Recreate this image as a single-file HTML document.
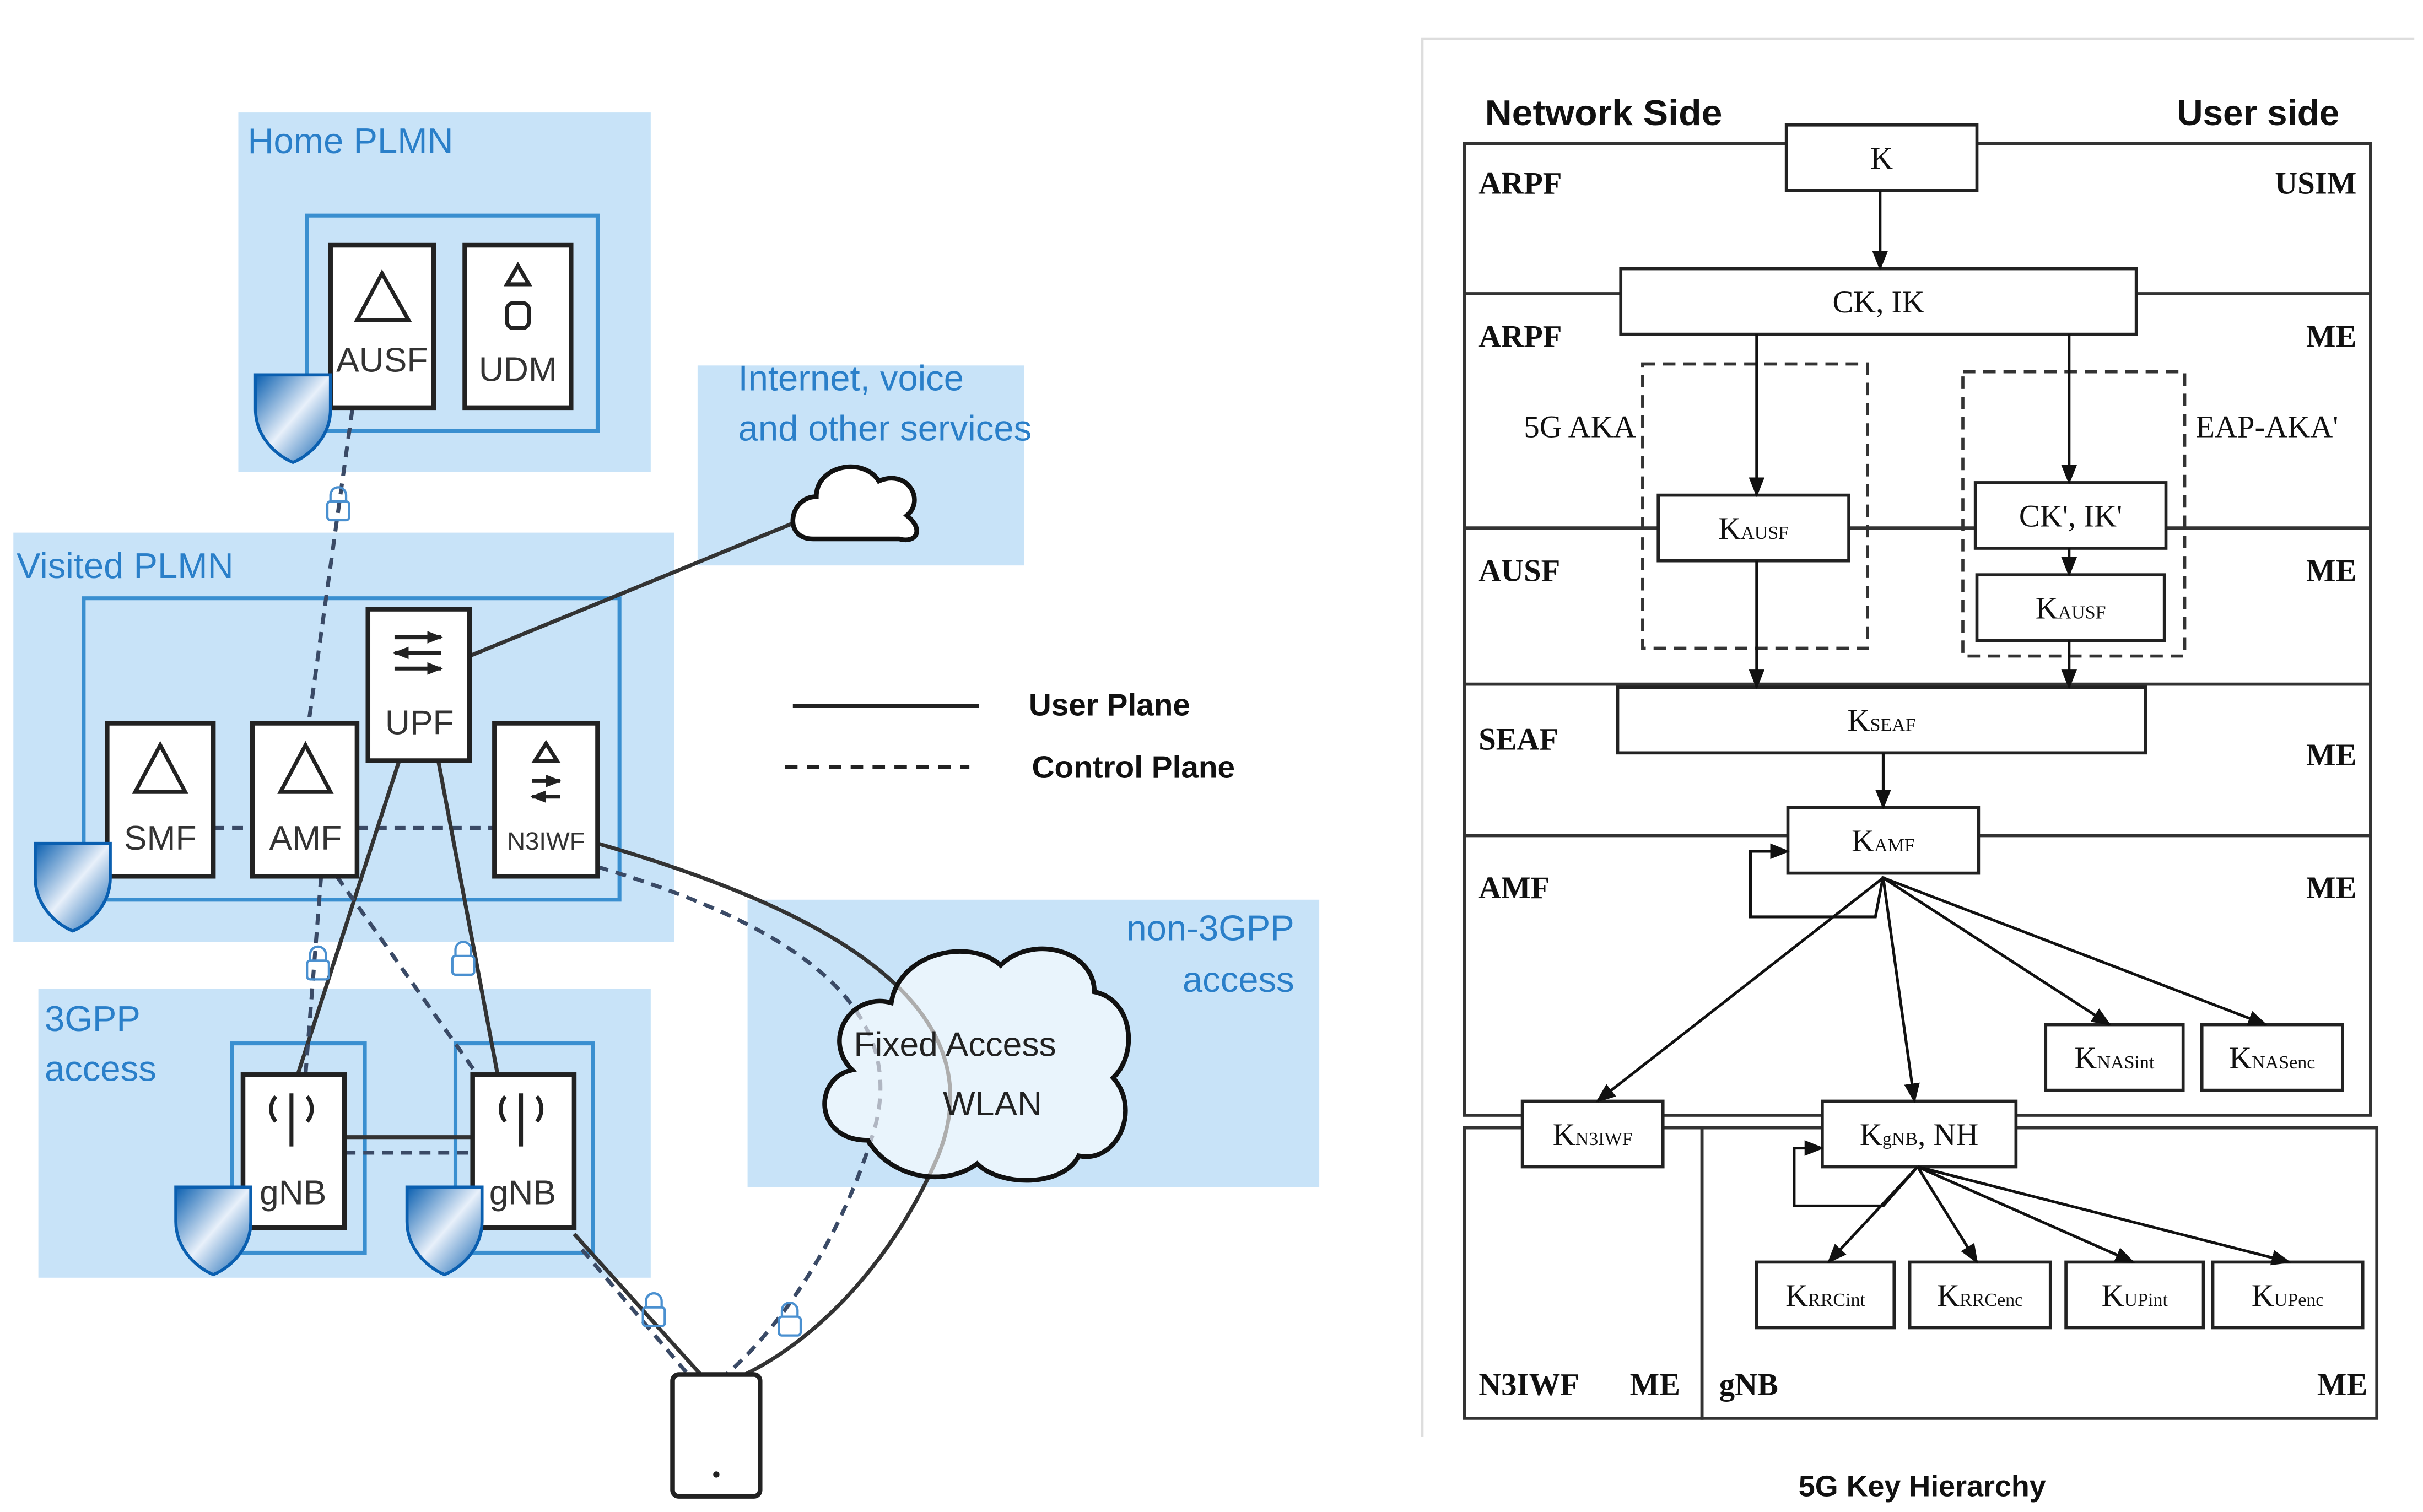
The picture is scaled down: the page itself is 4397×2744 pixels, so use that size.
<!DOCTYPE html>
<html><head><meta charset="utf-8"><style>html,body{margin:0;padding:0;background:#fff}svg{display:block}</style></head>
<body>
<svg width="4397" height="2744" viewBox="0 0 1550 968" xmlns="http://www.w3.org/2000/svg" font-family="Liberation Sans, sans-serif">
<defs>
<marker id="ar" viewBox="0 0 10 10" refX="9" refY="5" markerWidth="7" markerHeight="7" orient="auto"><path d="M0,1 L10,5 L0,9 z" fill="#111"/></marker>
<marker id="sa" viewBox="0 0 10 10" refX="9" refY="5" markerWidth="4" markerHeight="4" orient="auto"><path d="M0,1 L10,5 L0,9 z" fill="#222"/></marker>
<linearGradient id="sh" x1="0" y1="0" x2="1" y2="1"><stop offset="0" stop-color="#0a5fb0"/><stop offset="0.5" stop-color="#e8f0fa"/><stop offset="1" stop-color="#0a5fb0"/></linearGradient>
<g id="shield"><path d="M0,0 L48,0 L48,22 C48,40 34,52 24,56 C14,52 0,40 0,22 Z" fill="url(#sh)" stroke="#0a5fb0" stroke-width="2"/></g>
<g id="lock" fill="none" stroke="#4a90d0" stroke-width="1.5"><path d="M2,9 v-4 a5,5 0 0 1 10,0 v4"/><rect x="0" y="9" width="14" height="12" rx="2"/></g>
</defs>
<rect width="1550" height="968" fill="#fff"/>
<g fill="#c8e3f8">
<rect x="152" y="72" width="264" height="230"/>
<rect x="446" y="234" width="209" height="128"/>
<rect x="8" y="341" width="423" height="262"/>
<rect x="24" y="633" width="392" height="185"/>
<rect x="478" y="576" width="366" height="184"/>
</g>
<g fill="#2a7fc9" font-size="23">
<text x="158" y="98">Home PLMN</text>
<text x="472" y="250">Internet, voice</text>
<text x="472" y="282">and other services</text>
<text x="10" y="370">Visited PLMN</text>
<text x="28" y="660">3GPP</text>
<text x="28" y="692">access</text>
<text x="828" y="602" text-anchor="end">non-3GPP</text>
<text x="828" y="635" text-anchor="end">access</text>
</g>
<g fill="none" stroke="#3a8fd0" stroke-width="2.5">
<rect x="196" y="138" width="186" height="138"/>
<rect x="53" y="383" width="343" height="193"/>
<rect x="148" y="668" width="85" height="134"/>
<rect x="291" y="668" width="88" height="134"/>
</g>
<g fill="none" stroke="#333" stroke-width="2.5">
<path d="M225,262 L197,463" stroke-dasharray="7,5" stroke="#3a4a66"/>
<path d="M300,420 L512,333"/>
<path d="M136,530 L161,530 M228,530 L316,530" stroke-dasharray="7,5" stroke="#3a4a66"/>
<path d="M255,487 L190,688 M280,487 L318,688"/>
<path d="M205,561 L195,688 M215,561 L305,688" stroke-dasharray="7,5" stroke="#3a4a66"/>
<path d="M220,728 L302,728"/>
<path d="M220,738 L302,738" stroke-dasharray="7,5" stroke="#3a4a66"/>
<path d="M382,540 C520,580 640,640 600,740 C570,810 520,860 472,882"/>
<path d="M382,555 C500,590 580,640 560,720 C540,790 500,850 462,882" stroke-dasharray="7,5" stroke="#3a4a66"/>
<path d="M367,790 L448,880"/>
<path d="M372,800 L440,880" stroke-dasharray="7,5" stroke="#3a4a66"/>
</g>
<path d="M520,345 C500,345 505,318 522,318 C522,298 552,292 562,308 C580,300 592,320 580,330 C592,340 585,348 575,345 Z" fill="#fff" stroke="#111" stroke-width="3"/>
<path d="M555,730 C520,730 520,690 545,685 C525,665 545,635 570,642 C575,610 620,600 640,618 C660,598 700,608 700,635 C725,640 728,675 712,690 C730,710 715,745 690,740 C680,760 640,760 625,745 C605,760 570,755 555,730 Z" fill="#fff" stroke="#111" stroke-width="3" fill-opacity="0.6"/>
<text x="546" y="676" font-size="22" fill="#222">Fixed Access</text>
<text x="603" y="714" font-size="22" fill="#222">WLAN</text>
<g fill="#fff" stroke="#222" stroke-width="3">
<rect x="211" y="157" width="66" height="104"/>
<rect x="297" y="157" width="68" height="104"/>
<rect x="68" y="463" width="68" height="98"/>
<rect x="161" y="463" width="67" height="98"/>
<rect x="235" y="390" width="65" height="97"/>
<rect x="316" y="463" width="66" height="98"/>
<rect x="155" y="688" width="65" height="98"/>
<rect x="302" y="688" width="65" height="98"/>
<rect x="430" y="880" width="56" height="78" rx="4"/>
</g>
<circle cx="458" cy="944" r="2" fill="#222"/>
<g fill="none" stroke="#222" stroke-width="2.5">
<path d="M228,205 L244,175 L261,205 Z"/>
<path d="M324,182 L331,170 L338,182 Z"/><rect x="324" y="194" width="14" height="16" rx="4"/>
<path d="M86,507 L102,477 L118,507 Z"/>
<path d="M179,507 L195,477 L211,507 Z"/>
<path d="M342,487 L349,476 L356,487 Z"/>
<path d="M186,700 v34 M333,700 v34 M176,702 a12,12 0 0 0 0,16 M196,702 a12,12 0 0 1 0,16 M323,702 a12,12 0 0 0 0,16 M343,702 a12,12 0 0 1 0,16"/>
</g>
<g fill="none" stroke="#222" stroke-width="2.5" marker-end="url(#sa)">
<path d="M252,408 h30"/><path d="M282,418 h-30"/><path d="M252,428 h30"/>
<path d="M340,500 h18"/><path d="M358,510 h-18"/>
</g>
<g font-size="22" fill="#333" text-anchor="middle">
<text x="244" y="238">AUSF</text><text x="331" y="244">UDM</text>
<text x="102" y="544">SMF</text><text x="195" y="544">AMF</text>
<text x="268" y="470">UPF</text><text x="349" y="544" font-size="16">N3IWF</text>
<text x="187" y="771">gNB</text><text x="334" y="771">gNB</text>
</g>
<use href="#shield" x="163" y="240"/><use href="#shield" x="22" y="540"/>
<use href="#shield" x="112" y="760"/><use href="#shield" x="260" y="760"/>
<use href="#lock" x="209" y="312"/><use href="#lock" x="196" y="606"/><use href="#lock" x="289" y="603"/>
<use href="#lock" x="411" y="828"/><use href="#lock" x="498" y="834"/>
<path d="M507,452 H626" stroke="#222" stroke-width="2.5"/>
<path d="M502,491 H620" stroke="#222" stroke-width="2.5" stroke-dasharray="8,6"/>
<text x="658" y="458" font-size="20" font-weight="bold" fill="#111">User Plane</text>
<text x="660" y="498" font-size="20" font-weight="bold" fill="#111">Control Plane</text>

<path d="M910,920 V25 H1545" fill="none" stroke="#ddd" stroke-width="1.5"/>
<text x="950" y="80" font-size="23" font-weight="bold" fill="#111" textLength="152" lengthAdjust="spacingAndGlyphs">Network Side</text>
<text x="1393" y="80" font-size="23" font-weight="bold" fill="#111" textLength="104" lengthAdjust="spacingAndGlyphs">User side</text>
<g fill="none" stroke="#333" stroke-width="2">
<rect x="937" y="92" width="580" height="622"/>
<path d="M937,188 H1517 M937,338 H1517 M937,438 H1517 M937,535 H1517"/>
<rect x="937" y="722" width="152" height="186"/>
<rect x="1089" y="722" width="432" height="186"/>
<rect x="1051" y="233" width="144" height="182" stroke-dasharray="8,5"/>
<rect x="1256" y="238" width="142" height="182" stroke-dasharray="8,5"/>
</g>
<g fill="#fff" stroke="#222" stroke-width="2">
<rect x="1143" y="80" width="122" height="42"/>
<rect x="1037" y="172" width="330" height="42"/>
<rect x="1061" y="317" width="122" height="42"/>
<rect x="1264" y="309" width="122" height="42"/>
<rect x="1265" y="368" width="120" height="42"/>
<rect x="1035" y="440" width="338" height="42"/>
<rect x="1144" y="517" width="122" height="42"/>
<rect x="1309" y="656" width="88" height="42"/>
<rect x="1409" y="656" width="90" height="42"/>
<rect x="974" y="705" width="90" height="42"/>
<rect x="1166" y="705" width="124" height="42"/>
<rect x="1124" y="808" width="88" height="42"/>
<rect x="1222" y="808" width="90" height="42"/>
<rect x="1322" y="808" width="88" height="42"/>
<rect x="1416" y="808" width="96" height="42"/>
</g>
<g fill="none" stroke="#111" stroke-width="1.8" marker-end="url(#ar)">
<path d="M1203,122 V172"/><path d="M1124,214 V317"/><path d="M1324,214 V309"/>
<path d="M1324,351 V368"/><path d="M1124,359 V440"/><path d="M1324,410 V440"/>
<path d="M1205,482 V517"/>
<path d="M1205,561 L1200,587 H1120 V545 H1144"/>
<path d="M1205,562 L1022,705"/><path d="M1205,562 L1225,705"/>
<path d="M1205,562 L1350,656"/><path d="M1205,562 L1450,656"/>
<path d="M1227,747 L1205,772 H1148 V735 H1166"/>
<path d="M1227,747 L1170,808"/><path d="M1227,747 L1265,808"/>
<path d="M1227,747 L1365,808"/><path d="M1227,747 L1465,808"/>
</g>
<g font-family="Liberation Serif, serif" fill="#111">
<g font-size="20" font-weight="bold">
<text x="946" y="124">ARPF</text><text x="1508" y="124" text-anchor="end">USIM</text>
<text x="946" y="222">ARPF</text><text x="1508" y="222" text-anchor="end">ME</text>
<text x="946" y="372">AUSF</text><text x="1508" y="372" text-anchor="end">ME</text>
<text x="946" y="480">SEAF</text><text x="1508" y="490" text-anchor="end">ME</text>
<text x="946" y="575">AMF</text><text x="1508" y="575" text-anchor="end">ME</text>
<text x="946" y="893">N3IWF</text><text x="1075" y="893" text-anchor="end">ME</text>
<text x="1100" y="893">gNB</text><text x="1515" y="893" text-anchor="end">ME</text>
</g>
<g font-size="20">
<text x="975" y="280">5G AKA</text><text x="1405" y="280">EAP-AKA'</text>
<text x="1204" y="108" text-anchor="middle">K</text>
<text x="1202" y="200" text-anchor="middle">CK, IK</text>
<text x="1122" y="345" text-anchor="middle">K<tspan font-size="12">AUSF</tspan></text>
<text x="1325" y="337" text-anchor="middle">CK', IK'</text>
<text x="1325" y="396" text-anchor="middle">K<tspan font-size="12">AUSF</tspan></text>
<text x="1204" y="468" text-anchor="middle">K<tspan font-size="12">SEAF</tspan></text>
<text x="1205" y="545" text-anchor="middle">K<tspan font-size="12">AMF</tspan></text>
<text x="1353" y="684" text-anchor="middle">K<tspan font-size="12">NASint</tspan></text>
<text x="1454" y="684" text-anchor="middle">K<tspan font-size="12">NASenc</tspan></text>
<text x="1019" y="733" text-anchor="middle">K<tspan font-size="12">N3IWF</tspan></text>
<text x="1228" y="733" text-anchor="middle">K<tspan font-size="12">gNB</tspan>, NH</text>
<text x="1168" y="836" text-anchor="middle">K<tspan font-size="12">RRCint</tspan></text>
<text x="1267" y="836" text-anchor="middle">K<tspan font-size="12">RRCenc</tspan></text>
<text x="1366" y="836" text-anchor="middle">K<tspan font-size="12">UPint</tspan></text>
<text x="1464" y="836" text-anchor="middle">K<tspan font-size="12">UPenc</tspan></text>
</g>
</g>
<text x="1230" y="958" font-size="19" font-weight="bold" fill="#111" text-anchor="middle">5G Key Hierarchy</text>
</svg>
</body></html>
